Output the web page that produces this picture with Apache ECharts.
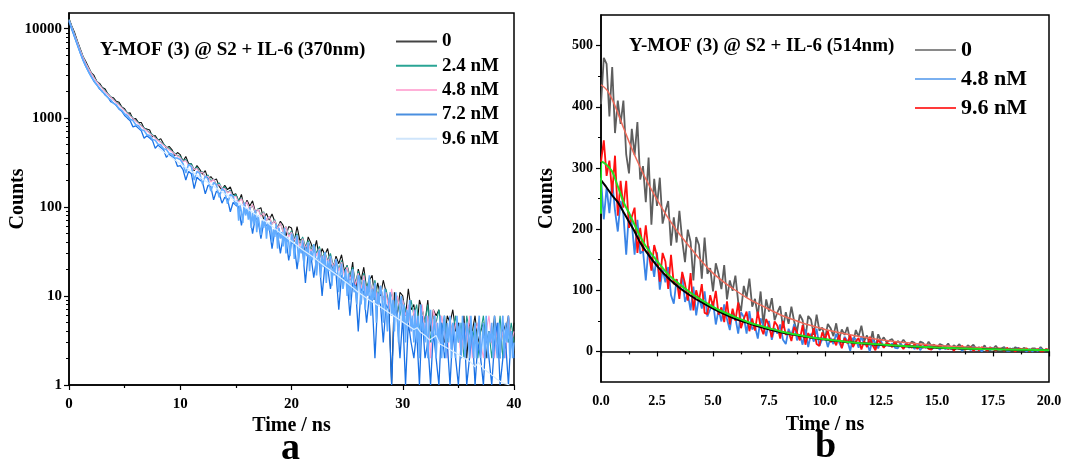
<!DOCTYPE html>
<html><head><meta charset="utf-8">
<script src="https://cdn.jsdelivr.net/npm/echarts@6/dist/echarts.min.js"></script>
<style>html,body{margin:0;padding:0;background:#fff}#main{width:1070px;height:461px}</style>
</head><body><div id="main"></div>
<script>
// ---------- Panel a (370 nm, log scale) ----------
const tA = [0,0.25,0.5,0.75,1,1.25,1.5,1.75,2,2.25,2.5,2.75,3,3.25,3.5,3.75,4,4.25,4.5,4.75,5,5.25,5.5,5.75,6,6.25,6.5,6.75,7,7.25,7.5,7.75,8,8.25,8.5,8.75,9,9.25,9.5,9.75,10,10.25,10.5,10.75,11,11.25,11.5,11.75,12,12.25,12.5,12.75,13,13.25,13.5,13.75,14,14.25,14.5,14.75,15,15.25,15.5,15.75,16,16.25,16.5,16.75,17,17.25,17.5,17.75,18,18.25,18.5,18.75,19,19.25,19.5,19.75,20,20.25,20.5,20.75,21,21.25,21.5,21.75,22,22.25,22.5,22.75,23,23.25,23.5,23.75,24,24.25,24.5,24.75,25,25.25,25.5,25.75,26,26.25,26.5,26.75,27,27.25,27.5,27.75,28,28.25,28.5,28.75,29,29.25,29.5,29.75,30,30.25,30.5,30.75,31,31.25,31.5,31.75,32,32.25,32.5,32.75,33,33.25,33.5,33.75,34,34.25,34.5,34.75,35,35.25,35.5,35.75,36,36.25,36.5,36.75,37,37.25,37.5,37.75,38,38.25,38.5,38.75,39,39.25,39.5,39.75,40];
const a0nM = [13000,10750,9060,7270,6010,4910,4300,3715,3200,2990,2550,2430,2190,2100,1850,1705,1675,1530,1490,1320,
1265,1125,1135,965,978,884,885,764,746,729,613,631,561,581,511,459,476,440,377,407,
386,324,367,307,304,254,291,264,233,255,203,219,198,206,170,155,174,156,167,137,
140,115,138,98,119,102,117,87,94,98,72,84,71,83,68,58,69,62,47,60,
58,41,60,42,44,30,46,39,31,42,26,34,29,34,23,20,28,23,29,19,
22,15,24,11,20,15,21,12,15,17,9,14,10,15,11,8,1,11,6,11,
10,6,12,7,8,4,9,7,5,9,4,7,6,7,4,3,6,5,7,4,
5,3,6,2,5,4,6,3,4,5,2,4,3,6,3,2,5,4,6,3,5];
const a24nM = [12800,10600,8750,7200,5900,4930,4180,3640,3190,2850,2580,2360,2170,2010,1860,1730,1610,1500,1410,1310,
1215,1150,1060,1000,930,880,815,775,722,680,645,598,572,530,508,470,452,420,401,376,
370,330,340,296,305,262,280,242,250,215,228,196,206,176,186,160,168,144,154,130,
138,118,126,104,112,95,104,84,96,80,88,70,78,64,72,58,66,52,60,48,
54,44,50,38,46,36,42,33,38,30,36,27,31,25,30,22,26,20,25,18,
22,17,21,14,19,13,18,12,16,11,15,10,13,9,12,8,11,7,10,6,9,
7,5,9,6,8,4,7,5,8,3,6,5,7,4,6,3,5,4,6,3,5,2,6,4,3,5,2,4,6,3,4,2,5,3,6,2,4,3,5,3];
const a48nM = [12600,10450,8600,7080,5820,4850,4120,3590,3150,2810,2540,2320,2130,1970,1830,1700,1585,1480,1385,1290,
1200,1120,1045,985,915,860,805,755,710,668,630,590,555,525,492,466,438,415,392,372,
356,322,330,292,290,262,270,238,246,214,220,190,204,172,178,162,160,144,150,126,
132,112,124,100,114,92,106,86,94,78,86,70,78,64,70,57,66,52,60,46,
52,42,48,36,44,34,40,31,37,28,34,25,30,24,28,21,26,19,24,17,
21,15,20,13,18,12,17,10,15,11,14,8,13,9,11,7,12,6,10,7,9,
6,8,4,7,5,3,8,4,6,2,7,5,3,6,4,2,6,3,5,4,2,5,3,6,2,4,5,3,2,4,6,3,2,5,3,4,2,6,3,4];
const a72nM = [12000,9800,8000,6550,5350,4450,3800,3300,2900,2550,2350,2100,1980,1800,1700,1520,1470,1370,1250,1180,
1060,990,925,790,812,760,714,590,629,592,557,455,493,464,438,360,389,368,349,285,
290,262,200,250,235,160,215,200,190,140,175,168,120,150,142,110,128,122,88,112,
104,100,62,92,86,80,50,76,70,44,66,62,58,34,54,50,30,46,44,25,
40,38,20,35,33,14,30,28,16,26,24,10,22,21,12,19,18,7,17,15,
15,6,14,13,4,12,11,5,10,9,2,9,8,3,8,7,1,7,6,2,6,
1,5,3,2,4,1,6,2,3,1,4,2,1,5,2,3,1,4,2,1,3,5,1,2,4,1,3,2,1,4,2,1,3,5,1,2,3,1,4,2];
// 9.6 nM: 0.25 ns channels up to 15 ns, 0.125 ns channels after
const tA96 = [0,0.25,0.5,0.75,1,1.25,1.5,1.75,2,2.25,2.5,2.75,3,3.25,3.5,3.75,4,4.25,4.5,4.75,5,5.25,5.5,5.75,6,6.25,6.5,6.75,7,7.25,7.5,7.75,8,8.25,8.5,8.75,9,9.25,9.5,9.75,10,10.25,10.5,10.75,11,11.25,11.5,11.75,12,12.25,12.5,12.75,13,13.25,13.5,13.75,14,14.25,14.5,14.75,15,
15.125,15.25,15.375,15.5,15.625,15.75,15.875,16,16.125,16.25,16.375,16.5,16.625,16.75,16.875,17,17.125,17.25,17.375,17.5,17.625,17.75,17.875,18,18.125,18.25,18.375,18.5,18.625,18.75,18.875,19,19.125,19.25,19.375,19.5,19.625,19.75,19.875,20,
20.125,20.25,20.375,20.5,20.625,20.75,20.875,21,21.125,21.25,21.375,21.5,21.625,21.75,21.875,22,22.125,22.25,22.375,22.5,22.625,22.75,22.875,23,23.125,23.25,23.375,23.5,23.625,23.75,23.875,24,24.125,24.25,24.375,24.5,24.625,24.75,24.875,25,
25.125,25.25,25.375,25.5,25.625,25.75,25.875,26,26.125,26.25,26.375,26.5,26.625,26.75,26.875,27,27.125,27.25,27.375,27.5,27.625,27.75,27.875,28,28.125,28.25,28.375,28.5,28.625,28.75,28.875,29,29.125,29.25,29.375,29.5,29.625,29.75,29.875,30,
30.125,30.25,30.375,30.5,30.625,30.75,30.875,31,31.125,31.25,31.375,31.5,31.625,31.75,31.875,32,32.125,32.25,32.375,32.5,32.625,32.75,32.875,33,33.125,33.25,33.375,33.5,33.625,33.75,33.875,34,34.125,34.25,34.375,34.5,34.625,34.75,34.875,35,
35.125,35.25,35.375,35.5,35.625,35.75,35.875,36,36.125,36.25,36.375,36.5,36.625,36.75,36.875,37,37.125,37.25,37.375,37.5,37.625,37.75,37.875,38,38.125,38.25,38.375,38.5,38.625,38.75,38.875,39,39.125,39.25,39.375,39.5,39.625,39.75,39.875,40];
const a96nM = [12400,10100,8200,6700,5450,4500,3820,3300,2900,2600,2330,2150,1950,1840,1680,1590,1450,1390,1270,1210,
1100,1060,960,930,835,815,735,718,645,632,570,560,505,496,450,440,398,392,356,352,
340,305,240,300,282,200,250,238,180,222,205,150,188,176,128,160,150,108,138,130,104,
118,70,104,88,66,112,80,96, 72,98,58,86,64,92,52,80, 84,48,70,58,78,44,66,54, 68,40,56,46,64,34,58,44, 52,36,58,30,46,40,28,50,
44,26,38,48,24,36,30,42, 22,36,28,40,19,32,25,38, 30,17,26,33,16,28,21,31, 14,25,19,28,13,22,17,26, 21,11,18,23,12,15,20,10,
18,9,15,20,11,13,8,17, 16,8,12,15,7,13,10,17, 6,12,9,14,5,11,8,13, 10,5,12,7,4,9,11,6, 9,4,11,6,3,8,10,5,
8,3,7,5,9,4,6,3, 7,3,6,2,8,4,5,3, 6,2,5,7,3,4,6,2, 5,3,6,2,4,6,2,5, 3,6,2,5,4,2,6,3,
5,2,6,3,2,5,4,2, 6,3,2,5,2,4,6,2, 3,5,2,6,2,4,3,5, 2,6,3,2,5,2,4,6, 2,5,3,6,2,4,2,3];
const tPale = [8,9,10,11,12,13,14,15,16,17,18,19,20,21,22,23,24,25,26,27,28,29,30,31,31.3,31.6,32,32.4,33,33.3,34,35,36,36.5,36.8,37.3,38,38.5,39,39.6];
const aPale = [460,375,305,250,205,170,140,116,96,79,64,51,41,33,27,21.5,17.5,14,11,9,7.5,6.2,5.1,4.2,4.4,3.9,3.6,3.2,3.6,2.9,2.6,2.2,1.85,1.6,1.8,1.5,1.3,1.15,1.05,1.0];
const yTicksA = [1,10,100,1000,10000];
const yMinorA = [2,3,4,5,6,7,8,9,20,30,40,50,60,70,80,90,200,300,400,500,600,700,800,900,2000,3000,4000,5000,6000,7000,8000,9000];

// ---------- Panel b (514 nm, linear) ----------
const tB = [0,0.125,0.25,0.375,0.5,0.625,0.75,0.875,1,1.125,1.25,1.375,1.5,1.625,1.75,1.875,2,2.125,2.25,2.375,2.5,2.625,2.75,2.875,3,3.125,3.25,3.375,3.5,3.625,3.75,3.875,4,4.125,4.25,4.375,4.5,4.625,4.75,4.875,5,5.125,5.25,5.375,5.5,5.625,5.75,5.875,6,6.125,6.25,6.375,6.5,6.625,6.75,6.875,7,7.125,7.25,7.375,7.5,7.625,7.75,7.875,8,8.125,8.25,8.375,8.5,8.625,8.75,8.875,9,9.125,9.25,9.375,9.5,9.625,9.75,9.875,10,10.125,10.25,10.375,10.5,10.625,10.75,10.875,11,11.125,11.25,11.375,11.5,11.625,11.75,11.875,12,12.125,12.25,12.375,12.5,12.625,12.75,12.875,13,13.125,13.25,13.375,13.5,13.625,13.75,13.875,14,14.125,14.25,14.375,14.5,14.625,14.75,14.875,15,15.125,15.25,15.375,15.5,15.625,15.75,15.875,16,16.125,16.25,16.375,16.5,16.625,16.75,16.875,17,17.125,17.25,17.375,17.5,17.625,17.75,17.875,18,18.125,18.25,18.375,18.5,18.625,18.75,18.875,19,19.125,19.25,19.375,19.5,19.625,19.75,19.875,20];
const b0nM = [404,480,470,384,465,357,410,372,410,322,291,364,321,375,281,303,244,317,207,282,
238,284,209,229,246,173,219,178,230,182,146,199,179,116,187,174,119,186,127,136,
98,144,126,102,141,85,116,99,124,81,66,107,88,119,73,86,58,98,43,85,
65,87,51,64,74,38,64,45,73,49,32,60,51,21,58,52,27,60,34,39,
20,45,38,25,46,19,36,27,40,17,12,35,24,42,17,26,10,33,4,28,
17,23,15,18,20,11,17,13,19,13,10,16,14,6,16,14,7,16,9,11,
5,12,10,7,13,4,10,7,12,4,3,10,7,11,4,7,3,10,1,7,
4,9,3,5,7,1,5,2,7,4,1,6,4,0,5,5,1,7,2,3,3];
const b48nM = [284,216,268,226,279,230,196,246,224,158,228,210,158,215,160,165,116,172,150,122,
162,101,134,113,138,92,78,118,98,125,81,94,67,106,59,89,70,98,57,69,
82,44,68,49,77,53,35,65,55,29,64,56,29,66,36,41,21,54,41,25,
50,19,38,29,44,19,12,37,26,45,18,28,11,36,7,29,16,37,9,20,
26,7,22,12,29,15,6,24,17,1,22,20,6,25,11,14,0,20,13,5,
17,7,12,9,13,6,5,12,8,13,6,9,4,11,2,9,6,11,3,7,
8,3,7,4,8,5,2,7,6,1,6,6,2,8,3,4,0,6,5,2,
6,1,4,3,5,1,1,5,3,6,2,3,0,4,0,3,1,5,1,2,2];
const b96nM = [310,345,287,312,258,320,222,279,235,279,202,220,235,161,202,164,206,162,132,174,
156,114,161,147,102,158,110,118,86,130,111,83,128,67,100,83,110,63,61,92,
73,99,60,72,48,82,44,70,50,80,38,53,65,33,54,34,65,40,28,53,
42,23,49,42,21,50,27,32,17,40,31,18,43,11,30,21,38,12,9,31,
20,33,15,20,10,27,5,22,13,27,7,16,22,3,17,7,24,10,2,19,
13,6,14,12,7,15,8,10,4,12,10,6,12,4,10,6,11,4,3,10,
6,10,5,7,4,8,1,7,4,9,3,5,7,1,5,2,7,4,1,6,
4,1,5,4,1,6,2,3,0,5,4,2,5,1,3,2,4,0,0,4,2];
const tFit = [0,0.25,0.5,0.75,1,1.25,1.5,1.75,2,2.5,3,3.5,4,4.5,5,5.5,6,6.5,7,7.5,8,8.5,9,9.5,10,11,12,13,14,15,16,17,18,19,20];
const fit0nM = [436,428,412,390,366,343,321,301,282,248,218,192,169,147,128,113,100,88,78,69,60,53,46.5,41,36,28,21.5,16.5,12.8,9.8,7.6,5.8,4.5,3.5,2.7];
const fit48nM = [280,268,255,244,228,212,196,178,164,140,120,104,91,80,70,61,53,47,41,36,31.5,28,24.8,22,19.5,15.2,12,9.5,7.5,6,4.7,3.8,3,2.4,2];
const tFitG = [0,0.05,0.25,0.5,0.75,1,1.25,1.5,1.75,2,2.5,3,3.5,4,4.5,5,5.5,6,6.5,7,7.5,8,8.5,9,9.5,10,11,12,13,14,15,16,17,18,19,20];
const fit96nM = [225,310,305,294,270,245,226,207,188,172,148,126,110,96,84,73,64,56,49,43,38,33,29,25.5,22.5,20,15.5,12.5,10,8,6.3,5,4,3.2,2.6,2.1];
const yTicksB = [0,100,200,300,400,500];
const yMinorB = [50,150,250,350,450];

// ---------- build ----------
const F = '"Liberation Serif","Times New Roman",serif';
const chart = echarts.init(document.getElementById('main'), null, {renderer:'canvas'});
function ln(name, xs, ys, xi, yi, color, width, extra) {
  return Object.assign({
    type:'line', name, xAxisIndex:xi, yAxisIndex:yi,
    data: xs.map((t,i)=>[t, ys[i]]),
    symbol:'none', showSymbol:false, silent:true, animation:false,
    lineStyle:{color, width}, itemStyle:{color}
  }, extra||{});
}
const tickLbl = {fontFamily:F, fontWeight:'bold', color:'#000'};
const axLine = {show:true, lineStyle:{color:'#000', width:1.5}};
const nameStyle = {fontFamily:F, fontWeight:'bold', fontSize:20, color:'#000'};

const option = {
  backgroundColor:'#fff',
  animation:false,
  title:[
    {text:'Y-MOF (3) @ S2 + IL-6 (370nm)', left:100, top:41, padding:0, textStyle:{fontFamily:F, fontWeight:'bold', fontSize:19, color:'#000'}},
    {text:'Y-MOF (3) @ S2 + IL-6 (514nm)', left:629, top:37, padding:0, textStyle:{fontFamily:F, fontWeight:'bold', fontSize:19, color:'#000'}}
  ],
  legend:[
    {orient:'vertical', left:396, top:32, padding:0, icon:'rect', itemWidth:41, itemHeight:2, itemGap:5.3,
     textStyle:{fontFamily:F, fontWeight:'bold', fontSize:19, color:'#000', lineHeight:19},
     data:[
       {name:'0', itemStyle:{color:'#444'}},
       {name:'2.4 nM', itemStyle:{color:'#2aa595'}},
       {name:'4.8 nM', itemStyle:{color:'#ffb0d8'}},
       {name:'7.2 nM', itemStyle:{color:'#4a8fe0'}},
       {name:'9.6 nM', itemStyle:{color:'#cfe5fb'}}
     ]},
    {orient:'vertical', left:915, top:39, padding:0, icon:'rect', itemWidth:41, itemHeight:2, itemGap:7,
     formatter:n=>n.slice(2),
     textStyle:{fontFamily:F, fontWeight:'bold', fontSize:22, color:'#000', lineHeight:22},
     data:[
       {name:'b:0', itemStyle:{color:'#8a8a8a'}},
       {name:'b:4.8 nM', itemStyle:{color:'#7ab0f0'}},
       {name:'b:9.6 nM', itemStyle:{color:'#ff3a3a'}}
     ]}
  ],
  grid:[
    {left:69, right:556, top:13, bottom:76, show:true, borderColor:'#000', borderWidth:1.5, backgroundColor:'transparent'},
    {left:601, right:21, top:15, bottom:79, show:true, borderColor:'#000', borderWidth:1.5, backgroundColor:'transparent'}
  ],
  xAxis:[
    {gridIndex:0, type:'value', min:0, max:40, interval:10, axisLine:axLine,
     axisTick:{length:5, lineStyle:{color:'#000', width:1.2}},
     minorTick:{show:true, splitNumber:2, length:3, lineStyle:{color:'#000', width:1.2}},
     splitLine:{show:false},
     axisLabel:Object.assign({fontSize:15, margin:12}, tickLbl),
     name:'Time / ns', nameLocation:'middle', nameGap:31, nameMoveOverlap:false, nameTextStyle:nameStyle},
    {gridIndex:1, type:'value', min:0, max:20, interval:2.5, axisLine:axLine,
     axisTick:{length:5, lineStyle:{color:'#000', width:1.2}},
     minorTick:{show:true, splitNumber:2, length:3, lineStyle:{color:'#000', width:1.2}},
     splitLine:{show:false},
     axisLabel:Object.assign({fontSize:14, margin:12, formatter:v=>v.toFixed(1)}, tickLbl),
     name:'Time / ns', nameLocation:'middle', nameGap:33, nameMoveOverlap:false, nameTextStyle:nameStyle}
  ],
  yAxis:[
    {gridIndex:0, type:'log', logBase:10, min:1, max:15000, axisLine:axLine,
     axisTick:{length:5, customValues:yTicksA, lineStyle:{color:'#000', width:1.2}},
     splitLine:{show:false},
     axisLabel:Object.assign({fontSize:15, margin:7, customValues:yTicksA,
       formatter:v=>{const l=Math.log10(v); return (Math.abs(l-Math.round(l))<1e-6 && v<=10000)? String(Math.round(v)) : '';}}, tickLbl),
     name:'Counts', nameLocation:'middle', nameGap:41, nameMoveOverlap:false, nameTextStyle:nameStyle},
    {gridIndex:0, type:'log', logBase:10, min:1, max:15000, position:'left',
     axisLine:{show:false}, axisLabel:{show:false}, splitLine:{show:false},
     axisTick:{show:true, length:3, customValues:yMinorA, lineStyle:{color:'#000', width:1}}},
    {gridIndex:1, type:'value', min:-50, max:550, interval:50, axisLine:axLine,
     axisTick:{length:5, customValues:yTicksB, lineStyle:{color:'#000', width:1.2}},
     splitLine:{show:false},
     axisLabel:Object.assign({fontSize:14, margin:8, customValues:yTicksB,
       formatter:v=>(v%100===0 && v>=0 && v<=500)? String(v):''}, tickLbl),
     name:'Counts', nameLocation:'middle', nameGap:44, nameMoveOverlap:false, nameTextStyle:nameStyle},
    {gridIndex:1, type:'value', min:-50, max:550, interval:50, position:'left',
     axisLine:{show:false}, axisLabel:{show:false}, splitLine:{show:false},
     axisTick:{show:true, length:3, customValues:yMinorB, lineStyle:{color:'#000', width:1}}}
  ],
  graphic:[
    {type:'text', left:281, top:430, style:{text:'a', font:'bold 38px '+F, fill:'#000'}},
    {type:'text', left:815, top:428, style:{text:'b', font:'bold 38px '+F, fill:'#000'}}
  ],
  series:[
    ln('0', tA, a0nM, 0, 0, '#111111', 1.1),
    ln('2.4 nM', tA, a24nM, 0, 0, '#1b9a8a', 1.1),
    ln('4.8 nM', tA, a48nM, 0, 0, '#ff9fcf', 1.1),
    ln('7.2 nM', tA, a72nM, 0, 0, '#1a72e6', 1.3),
    ln('9.6 nM', tA96, a96nM, 0, 0, '#62acff', 1.6),
    ln('pale', tPale, aPale, 0, 0, '#d8ecff', 1.2),
    ln('b:0', tB, b0nM, 1, 2, '#5e5e5e', 1.8),
    ln('b:4.8 nM', tB, b48nM, 1, 2, '#3a84e6', 1.8),
    ln('b:9.6 nM', tB, b96nM, 1, 2, '#ff1010', 1.8),
    ln('fit0', tFit, fit0nM, 1, 2, '#ee6a5a', 1.5, {smooth:0.3}),
    ln('fit48', tFit, fit48nM, 1, 2, '#000000', 2, {smooth:0.3}),
    ln('fit96', tFitG, fit96nM, 1, 2, '#22e022', 2, {smooth:0.3})
  ]
};
chart.setOption(option);
</script></body></html>
